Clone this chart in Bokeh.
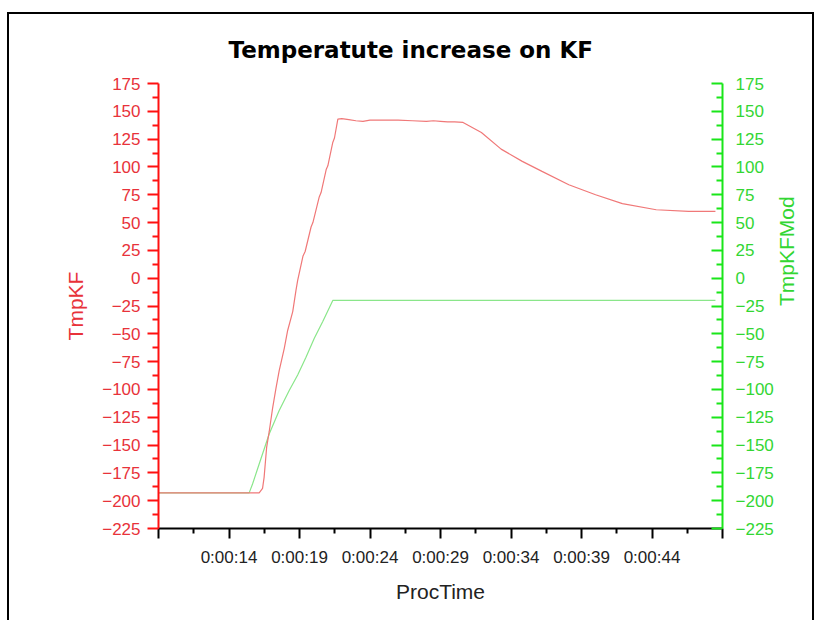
import math
from bokeh.plotting import figure
from bokeh.models import Range1d, LinearAxis, FixedTicker
from bokeh.layouts import column
from bokeh.embed import file_html
from bokeh.resources import INLINE

# ---------------- data ----------------
title_text = "Temperatute increase on KF"

# TmpKF (left axis), time in seconds
red_time = [9.0, 16.14, 16.38, 16.49, 16.67, 16.85, 17.09, 17.33, 17.56, 17.92,
            18.16, 18.52, 18.75, 18.87, 19.25, 19.40, 19.82, 19.95, 20.40, 20.53,
            20.90, 21.01, 21.36, 21.48, 21.72, 22.0, 22.5, 23.0, 23.5, 24.0,
            25.0, 26.0, 27.0, 28.0, 28.5, 29.0, 29.5, 30.0, 30.6, 31.9,
            33.3, 34.8, 36.2, 38.1, 40.0, 41.9, 44.3, 46.6, 48.5]
red_temp = [-193, -193, -189, -179, -152, -138, -117, -99, -83, -63,
            -47, -30, -11, -2, 20, 24, 46, 50, 73, 77,
            98, 101, 122, 126, 143, 143.5, 142.5, 141.5, 141, 142,
            142, 142, 141.5, 141, 141.5, 141, 140.5, 140.5, 140, 131,
            116, 105, 96, 84, 75, 67, 61.5, 60, 60]

# TmpKFMod (right axis)
mod_time = [9.0, 15.43, 15.67, 16.14, 16.85, 17.56, 18.27, 18.87, 19.46, 20.05,
            20.65, 21.36, 48.5]
mod_temp = [-193, -193, -185, -167, -140, -119, -101, -87, -71, -54,
            -39, -20, -20]

x_ticks = [9, 14, 19, 24, 29, 34, 39, 44, 49]
x_tick_labels = ["", "0:00:14", "0:00:19", "0:00:24", "0:00:29", "0:00:34",
                 "0:00:39", "0:00:44", ""]
x_minor = [11.5, 16.5, 21.5, 26.5, 31.5, 36.5, 41.5, 46.5]
y_ticks = [-225, -200, -175, -150, -125, -100, -75, -50, -25, 0,
           25, 50, 75, 100, 125, 150, 175]
y_minor = [-212.5, -187.5, -162.5, -137.5, -112.5, -87.5, -62.5, -37.5, -12.5,
           12.5, 37.5, 62.5, 87.5, 112.5, 137.5, 162.5]

# ---------------- styling ----------------
RED_AX = "#ff1010"
RED_TXT = "#e8323a"
GREEN_AX = "#19e619"
GREEN_TXT = "#33d633"
RED_LINE = "#f07878"
GREEN_LINE = "#8ae68a"
FONT = "Liberation Sans"

p = figure(width=803, height=606, output_backend="svg", toolbar_location=None,
           x_range=Range1d(9, 49), y_range=Range1d(-225, 175),
           min_border_left=149, min_border_right=88,
           min_border_top=68, min_border_bottom=92,
           background_fill_color="white", border_fill_color="white")
p.extra_y_ranges = {"mod": Range1d(-225, 175)}
p.grid.visible = False
p.outline_line_color = None

p.title.text = title_text
p.title.align = "left"
p.title.offset = 70
p.title.text_font = "DejaVu Sans"
p.title.text_font_style = "bold"
p.title.text_font_size = "23px"
p.title.text_color = "black"
p.title.standoff = 41

# x axis
xa = p.xaxis[0]
xa.ticker = FixedTicker(ticks=x_ticks, minor_ticks=x_minor)
xa.major_label_overrides = {t: lab for t, lab in zip(x_ticks, x_tick_labels)}
xa.axis_line_color = "black"
xa.axis_line_width = 2
xa.major_tick_line_color = "black"
xa.major_tick_line_width = 2
xa.minor_tick_line_color = "black"
xa.minor_tick_line_width = 2
xa.major_tick_out = 10
xa.major_tick_in = 0
xa.minor_tick_out = 5
xa.minor_tick_in = 0
xa.major_label_text_font = FONT
xa.major_label_text_font_size = "17px"
xa.major_label_text_color = "#222222"
xa.major_label_standoff = 9
xa.axis_label = "ProcTime"
xa.axis_label_text_font = FONT
xa.axis_label_text_font_size = "21px"
xa.axis_label_text_font_style = "normal"
xa.axis_label_text_color = "#222222"
xa.axis_label_standoff = 10

# left axis
ya = p.yaxis[0]
ya.ticker = FixedTicker(ticks=y_ticks, minor_ticks=y_minor)
ya.axis_line_color = RED_AX
ya.axis_line_width = 2
ya.major_tick_line_color = RED_AX
ya.major_tick_line_width = 2
ya.minor_tick_line_color = RED_AX
ya.minor_tick_line_width = 2
ya.major_tick_out = 11
ya.major_tick_in = 0
ya.minor_tick_out = 6
ya.minor_tick_in = 0
ya.major_label_text_font = FONT
ya.major_label_text_font_size = "17px"
ya.major_label_text_color = RED_TXT
ya.major_label_standoff = 7
ya.axis_label = "TmpKF"
ya.axis_label_text_font = FONT
ya.axis_label_text_font_size = "21px"
ya.axis_label_text_font_style = "normal"
ya.axis_label_text_color = RED_TXT
ya.axis_label_standoff = 12

# right axis (title reads bottom to top, as in the reference)
ra = LinearAxis(y_range_name="mod",
                ticker=FixedTicker(ticks=y_ticks, minor_ticks=y_minor))
ra.axis_line_color = GREEN_AX
ra.axis_line_width = 2
ra.major_tick_line_color = GREEN_AX
ra.major_tick_line_width = 2
ra.minor_tick_line_color = GREEN_AX
ra.minor_tick_line_width = 2
ra.major_tick_out = 0
ra.major_tick_in = 11
ra.minor_tick_out = 0
ra.minor_tick_in = 6
ra.major_label_text_font = FONT
ra.major_label_text_font_size = "17px"
ra.major_label_text_color = GREEN_TXT
ra.major_label_standoff = 13
ra.axis_label = "TmpKFMod"
ra.axis_label_text_font = FONT
ra.axis_label_text_font_size = "21px"
ra.axis_label_text_font_style = "normal"
ra.axis_label_text_color = GREEN_TXT
ra.axis_label_standoff = 10
ra.axis_label_orientation = math.pi / 2
p.add_layout(ra, "right")

p.line(mod_time, mod_temp, line_color=GREEN_LINE, line_width=1.2, y_range_name="mod")
p.line(red_time, red_temp, line_color=RED_LINE, line_width=1.2)

layout = column(p, margin=(12, 0, 0, 7),
                styles={"border-top": "2px solid black",
                        "border-left": "2px solid black",
                        "border-right": "2px solid black"})

with open("out.html", "w") as f:
    f.write(file_html(layout, INLINE))
